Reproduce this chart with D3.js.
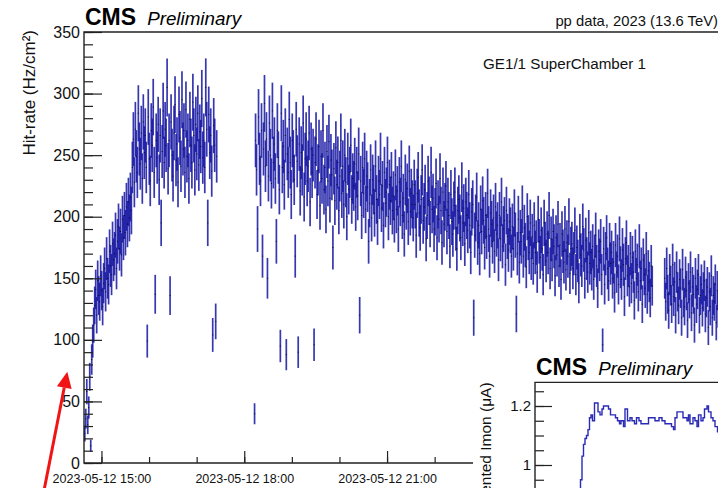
<!DOCTYPE html>
<html>
<head>
<meta charset="utf-8">
<script src="https://cdn.jsdelivr.net/npm/d3@7"></script>
<style>
  html, body { margin: 0; padding: 0; background: #fff; }
  svg { display: block; font-family: "Liberation Sans", Arial, sans-serif; }
</style>
</head>
<body>
<div id="app"></div>
<script>
// hit rate per 1.25 min bin, three stretches of fill separated by gaps
const stepMinutes = 1.25;

const run1Start = '2023-05-12 14:39';
const run1Rates = [
    24, 36, 58, 31, 45, 70, 14, 84, 99, 112, 128, 141, 120, 148, 136, 131, 152, 140, 127, 146,
    158, 139, 166, 150, 145, 172, 160, 153, 178, 165, 170, 185, 158, 180, 192, 174, 188, 169, 198, 183,
    201, 187, 208, 194, 212, 199, 216, 205, 240, 263, 228, 271, 249, 236, 284, 255, 243, 268, 231, 277,
    252, 266, 240, 99, 281, 247, 229, 270, 258, 289, 236, 137, 262, 248, 275, 230, 266, 195, 253, 286,
    244, 271, 258, 305, 239, 262, 136, 277, 250, 233, 268, 291, 246, 259, 228, 283, 264, 241, 295, 255,
    270, 236, 287, 249, 262, 231, 279, 258, 244, 293, 266, 238, 275, 251, 284, 242, 269, 257, 296, 248,
    262, 240, 305, 271, 195, 283, 252, 266, 237, 104, 274, 258, 115, 249];

const run2Start = '2023-05-12 18:13';
const run2Rates = [
    40, 262, 238, 190, 281, 247, 229, 270, 168, 255, 292, 241, 263, 150, 233, 276, 250, 227, 286, 244,
    259, 231, 180, 270, 248, 222, 95, 284, 240, 257, 226, 266, 88, 251, 236, 279, 244, 218, 262, 249,
    230, 168, 271, 245, 90, 259, 221, 252, 238, 276, 216, 247, 263, 229, 241, 268, 212, 255, 236, 250,
    96, 244, 263, 218, 238, 257, 209, 249, 231, 270, 222, 240, 206, 253, 229, 261, 215, 246, 234, 175,
    239, 213, 256, 226, 244, 205, 233, 262, 219, 241, 210, 250, 228, 200, 247, 222, 236, 258, 214, 231,
    225, 243, 208, 236, 217, 251, 120, 229, 201, 240, 219, 247, 206, 233, 224, 180, 211, 238, 199, 230,
    222, 203, 241, 214, 196, 229, 218, 247, 207, 225, 193, 236, 211, 220, 244, 200, 226, 213, 232, 205,
    217, 198, 234, 206, 221, 190, 228, 212, 241, 201, 215, 186, 230, 209, 223, 196, 237, 204, 219, 210,
    199, 226, 210, 185, 219, 232, 203, 191, 214, 238, 197, 208, 222, 182, 201, 229, 213, 194, 236, 206,
    215, 190, 204, 227, 183, 210, 198, 231, 205, 179, 220, 194, 208, 225, 188, 212, 201, 176, 218, 196,
    186, 209, 220, 191, 174, 205, 214, 199, 183, 224, 195, 207, 178, 212, 201, 189, 218, 193, 171, 204,
    210, 118, 185, 199, 216, 179, 193, 170, 206, 188, 213, 197, 175, 201, 184, 219, 190, 168, 203, 194,
    180, 199, 172, 208, 186, 193, 165, 201, 182, 212, 176, 190, 197, 161, 205, 184, 173, 196, 189, 168,
    192, 174, 203, 185, 121, 170, 198, 163, 187, 180, 206, 168, 191, 177, 159, 200, 183, 171, 195, 166,
    184, 162, 193, 171, 179, 155, 198, 180, 167, 189, 174, 153, 195, 178, 164, 186, 171, 201, 158, 182,
    165, 188, 176, 152, 183, 169, 194, 160, 177, 149, 186, 172, 163, 190, 157, 179, 168, 196, 154, 174,
    178, 158, 170, 189, 153, 175, 164, 146, 184, 169, 160, 192, 173, 150, 181, 166, 155, 187, 162, 171,
    157, 176, 149, 168, 185, 160, 142, 172, 165, 180, 153, 96, 174, 145, 170, 183, 158, 148, 177, 162,
    171, 150, 163, 138, 177, 155, 168, 145, 182, 159, 149, 173, 161, 135, 166, 179, 152, 160, 143, 170,
    146, 167, 155, 132, 172, 150, 161, 139, 176, 148, 158, 129, 165, 153, 142, 170, 137, 156, 147, 134,
    160, 144];

const run3Start = '2023-05-13 02:50';
const run3Rates = [
    150, 131, 158, 137, 124, 153, 144, 129, 161, 135, 147, 120, 155, 139, 128, 149, 142, 118, 157, 134,
    127, 151, 140, 116, 146, 133, 155, 122, 143, 137, 112, 150, 129, 141, 153, 120, 136, 145, 126, 139,
    148, 121, 134, 143, 110, 139, 127, 152, 118, 136, 131, 145, 114, 140, 125, 149, 132, 119, 138, 128,
    141, 117, 135, 126, 147, 113, 132, 139, 121, 144, 128, 109, 137, 124, 146, 119, 133, 127, 140, 115];

// statistical error ~ k * sqrt(rate)
const errScale = 1.35;

const yTicks = [0, 50, 100, 150, 200, 250, 300, 350];

// inset: Imon step curve, minutes since inset start
const imonMinutes = [88, 91, 94, 97, 100, 103, 106, 109, 112, 115,
    119, 123, 126, 130, 134, 137, 142, 147, 151, 157,
    161, 165, 169, 172, 177, 180, 185, 190, 194, 199,
    203, 208, 212, 217, 223, 227, 233, 240, 244, 248,
    254, 260, 267, 273, 277, 280, 284, 290, 296, 300,
    304, 307, 310, 316, 320, 324, 327, 332, 336, 339,
    344, 347, 352, 356, 360, 365];
const imonValues = [0.85, 0.95, 1.03, 1.07, 1.09, 1.10, 1.12, 1.16, 1.17, 1.15,
    1.21, 1.21, 1.18, 1.17, 1.19, 1.20, 1.20, 1.19, 1.17, 1.17,
    1.16, 1.15, 1.14, 1.15, 1.13, 1.19, 1.15, 1.16, 1.15, 1.14,
    1.16, 1.15, 1.14, 1.14, 1.14, 1.16, 1.16, 1.15, 1.15, 1.16,
    1.15, 1.14, 1.14, 1.13, 1.12, 1.16, 1.18, 1.18, 1.16, 1.16,
    1.15, 1.17, 1.14, 1.16, 1.15, 1.13, 1.17, 1.15, 1.16, 1.19,
    1.20, 1.18, 1.16, 1.15, 1.13, 1.11];
const imonTicks = [1.0, 1.2];

const width = 718;
const height = 488;
const blue = '#1414a2';

const parseTime = d3.utcParse('%Y-%m-%d %H:%M');
const makeRun = (start, rates) => {
    const t0 = parseTime(start);
    return rates.map((v, i) => ({
        t: new Date(+t0 + i * stepMinutes * 60000),
        v,
        e: errScale * Math.sqrt(v),
    }));
};
const points = [
    ...makeRun(run1Start, run1Rates),
    ...makeRun(run2Start, run2Rates),
    ...makeRun(run3Start, run3Rates),
];

const x = d3.scaleUtc()
    .domain([parseTime('2023-05-12 14:38'), parseTime('2023-05-13 04:30')])
    .range([84, 84 + (13 + 52 / 60) * 47.6]);
const y = d3.scaleLinear().domain([0, 350]).range([463, 32]);

const svg = d3.select('#app').append('svg')
    .attr('width', width)
    .attr('height', height)
    .attr('viewBox', [0, 0, width, height]);

svg.append('rect').attr('width', width).attr('height', height).attr('fill', '#fff');

// ---- main plot
const main = svg.append('g');

const bars = main.append('g');
bars.selectAll('line')
    .data(points)
    .enter().append('line')
    .attr('x1', d => x(d.t))
    .attr('x2', d => x(d.t))
    .attr('y1', d => y(d.v + d.e))
    .attr('y2', d => y(d.v - d.e))
    .attr('stroke', blue)
    .attr('stroke-width', 1.7)
    .attr('stroke-opacity', 0.85);
bars.selectAll('rect')
    .data(points)
    .enter().append('rect')
    .attr('x', d => x(d.t) - 0.6)
    .attr('y', d => y(d.v) - 0.5)
    .attr('width', 1.2)
    .attr('height', 1)
    .attr('fill', '#000')
    .attr('fill-opacity', 0.7);

// frame
main.append('path')
    .attr('d', `M${width + 40},${y(350)}H${x.range()[0]}V${y(0)}H${width + 40}`)
    .attr('fill', 'none')
    .attr('stroke', '#222')
    .attr('stroke-width', 1.4);

// y axis: major + minor ticks pointing inwards
const yAxis = main.append('g')
    .attr('transform', `translate(${x.range()[0]},0)`)
    .call(d3.axisLeft(y).tickValues(yTicks).tickSizeInner(-18).tickSizeOuter(0).tickPadding(4));
main.append('g')
    .attr('transform', `translate(${x.range()[0]},0)`)
    .call(d3.axisLeft(y).tickValues(d3.range(0, 351, 10)).tickSizeInner(-9).tickSizeOuter(0).tickFormat(''));

// x axis
const xAxis = main.append('g')
    .attr('transform', `translate(0,${y(0)})`)
    .call(d3.axisBottom(x).ticks(d3.utcHour.every(3)).tickSizeInner(-12).tickSizeOuter(0).tickPadding(11)
        .tickFormat(d3.utcFormat('%Y-%m-%d %H:%M')));
main.append('g')
    .attr('transform', `translate(0,${y(0)})`)
    .call(d3.axisBottom(x).ticks(d3.utcHour.every(1)).tickSizeInner(-6).tickSizeOuter(0).tickFormat(''));

main.selectAll('.domain').remove();
main.selectAll('.tick line').attr('stroke', '#222').attr('stroke-width', 1.2);
yAxis.selectAll('text').attr('font-size', 16).attr('fill', '#111');
xAxis.selectAll('text').attr('font-size', 12.5).attr('fill', '#111');
// only the labels left of the inset are visible
xAxis.selectAll('.tick').filter(d => x(d) > 460).select('text').remove();

main.append('text')
    .attr('transform', `translate(35,30) rotate(-90)`)
    .attr('text-anchor', 'end')
    .attr('font-size', 17)
    .attr('fill', '#111')
    .text('Hit-rate (Hz/cm²)');

const cmsLabel = (g, px, py) => {
    const t = g.append('text').attr('x', px).attr('y', py).attr('fill', '#000');
    t.append('tspan').attr('font-size', 23).attr('font-weight', 'bold').text('CMS');
    t.append('tspan').attr('dx', 11).attr('font-size', 18.8).attr('font-style', 'italic').text('Preliminary');
};
cmsLabel(main, 85, 25);

main.append('text')
    .attr('x', 718).attr('y', 26)
    .attr('text-anchor', 'end')
    .attr('font-size', 14.8)
    .attr('fill', '#111')
    .text('pp data, 2023 (13.6 TeV)');

main.append('text')
    .attr('x', 483).attr('y', 69)
    .attr('font-size', 15.2)
    .attr('fill', '#111')
    .text('GE1/1 SuperChamber 1');

// red annotation arrow, placed in data coordinates
const tip = [x(parseTime('2023-05-12 14:17')), y(74)];
const tail = [x(parseTime('2023-05-12 13:48')), y(-21)];
const ang = Math.atan2(tip[1] - tail[1], tip[0] - tail[0]);
const headLen = 16;
const headHalf = 7.5;
const base = [tip[0] - headLen * Math.cos(ang), tip[1] - headLen * Math.sin(ang)];
const nx = -Math.sin(ang);
const ny = Math.cos(ang);
main.append('line')
    .attr('x1', tail[0]).attr('y1', tail[1])
    .attr('x2', base[0]).attr('y2', base[1])
    .attr('stroke', '#f01414')
    .attr('stroke-width', 3);
main.append('path')
    .attr('d', `M${tip}L${base[0] + nx * headHalf},${base[1] + ny * headHalf}L${base[0] - nx * headHalf},${base[1] - ny * headHalf}Z`)
    .attr('fill', '#f01414');

// ---- inset (Imon)
const inset = svg.append('g');
inset.append('rect')
    .attr('x', 473).attr('y', 352)
    .attr('width', 300).attr('height', 200)
    .attr('fill', '#fff');

const xi = d3.scaleLinear().domain([0, 600]).range([535, 835]);
const yi = d3.scaleLinear().domain([0.9, 1.28]).range([494.5, 382.4]);

inset.append('clipPath').attr('id', 'inset-clip')
    .append('rect').attr('x', 535).attr('y', yi(1.28)).attr('width', 300).attr('height', 200);

const imon = imonMinutes.map((m, i) => ({ m, v: imonValues[i] }));
inset.append('path')
    .datum(imon)
    .attr('clip-path', 'url(#inset-clip)')
    .attr('fill', 'none')
    .attr('stroke', '#2a2ab8')
    .attr('stroke-width', 1.4)
    .attr('d', d3.line().x(d => xi(d.m)).y(d => yi(d.v)).curve(d3.curveStepAfter));

inset.append('path')
    .attr('d', `M${width + 40},${yi(1.28)}H${xi(0)}V${height + 20}`)
    .attr('fill', 'none')
    .attr('stroke', '#222')
    .attr('stroke-width', 1.4);

const yiAxis = inset.append('g')
    .attr('transform', `translate(${xi(0)},0)`)
    .call(d3.axisLeft(yi).tickValues(imonTicks).tickSizeInner(-17).tickSizeOuter(0).tickPadding(4)
        .tickFormat(v => v === 1 ? '1' : v.toFixed(1)));
inset.append('g')
    .attr('transform', `translate(${xi(0)},0)`)
    .call(d3.axisLeft(yi).tickValues(d3.range(0.9, 1.28, 0.05)).tickSizeInner(-9).tickSizeOuter(0).tickFormat(''));
inset.selectAll('.domain').remove();
inset.selectAll('.tick line').attr('stroke', '#222').attr('stroke-width', 1.2);
yiAxis.selectAll('text').attr('font-size', 15).attr('fill', '#111');

inset.append('text')
    .attr('transform', `translate(491,${yi(1.28)}) rotate(-90)`)
    .attr('text-anchor', 'end')
    .attr('font-size', 15.5)
    .attr('fill', '#111')
    .text('Segmented Imon (μA)');

cmsLabel(inset, 536, 375);
</script>
</body>
</html>
